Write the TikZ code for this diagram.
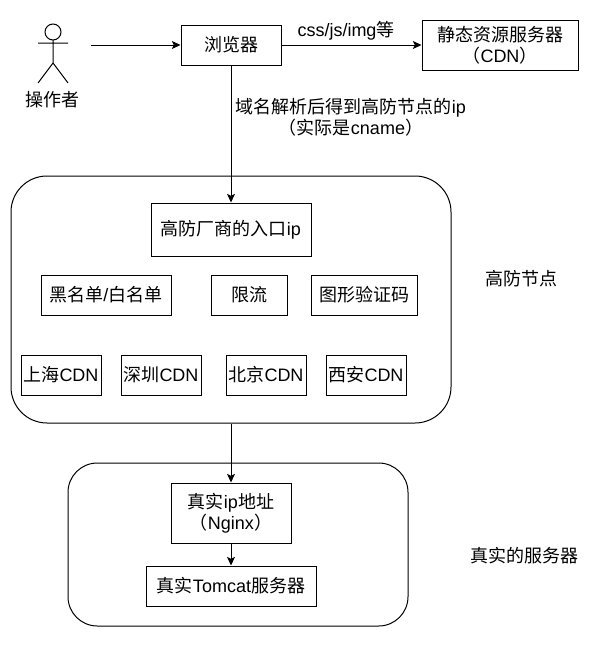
\documentclass[tikz,border=0pt]{standalone}
\usepackage{fontspec}
\setmainfont{Liberation Sans}
\newfontfamily\cjk{Noto Sans CJK SC}
\newcommand{\zh}[1]{{\cjk #1}}
\usetikzlibrary{arrows.meta}
\tikzset{
  box/.style={draw,line width=0.75pt,align=center,inner sep=0pt,font=\fontsize{13.5}{15.75}\selectfont},
  group/.style={draw,line width=0.75pt,rounded corners=27pt},
  lbl/.style={align=center,inner sep=0pt,font=\fontsize{13.5}{15.75}\selectfont},
  link/.style={line width=0.75pt,-{Stealth[length=6.5pt,width=6pt,inset=1.5pt]}},
}
\begin{document}
\begin{tikzpicture}[x=0.75pt,y=-0.75pt]
  \useasboundingbox (0,0) rectangle (595,646);
  % containers
  \node[group,minimum width=330pt,minimum height=185.25pt] (defend) at (231,299.5) {};
  \node[group,rounded corners=22pt,minimum width=255pt,minimum height=122.25pt] (real) at (238,544.5) {};
  % operator
  \draw[line width=0.75pt] (53,32) circle (8);
  \draw[line width=0.75pt] (53,40)--(53,63) (38,43)--(68,43) (38,83)--(53,63)--(68,83);
  \node[lbl] (operator) at (53,100) {\zh{操作者}};
  \coordinate (start) at (91,45);
  % top row
  \node[box,minimum width=75pt,minimum height=30pt] (browser) at (231,45) {\zh{浏览器}};
  \node[box,minimum width=117pt,minimum height=37.5pt] (static) at (500,45) {\zh{静态资源服务器}\\\zh{（}CDN\zh{）}};
  % defence node
  \node[box,minimum width=120pt,minimum height=39.75pt] (entry) at (231,229.5) {\zh{高防厂商的入口}ip};
  \node[box,minimum width=97.5pt,minimum height=30pt] (blacklist) at (106,295) {\zh{黑名单}/\zh{白名单}};
  \node[box,minimum width=57pt,minimum height=30pt] (limit) at (249,295) {\zh{限流}};
  \node[box,minimum width=79.5pt,minimum height=30pt] (captcha) at (364,295) {\zh{图形验证码}};
  \node[box,minimum width=60pt,minimum height=30pt] (shanghai) at (61,375) {\zh{上海}CDN};
  \node[box,minimum width=60pt,minimum height=30pt] (shenzhen) at (161,375) {\zh{深圳}CDN};
  \node[box,minimum width=60pt,minimum height=30pt] (beijing) at (266,375) {\zh{北京}CDN};
  \node[box,minimum width=60pt,minimum height=30pt] (xian) at (366,375) {\zh{西安}CDN};
  % real servers
  \node[box,minimum width=90pt,minimum height=45pt] (nginx) at (231,513) {\zh{真实}ip\zh{地址}\\\zh{（}Nginx\zh{）}};
  \node[box,minimum width=127.5pt,minimum height=30pt] (tomcat) at (231,586) {\zh{真实}Tomcat\zh{服务器}};
  % side labels
  \node[lbl] (defendlabel) at (521,279) {\zh{高防节点}};
  \node[lbl] (reallabel) at (524,556) {\zh{真实的服务器}};
  \node[lbl] (staticlabel) at (346,30.5) {css/js/img\zh{等}};
  \node[lbl] (dnslabel) at (351,117) {\zh{域名解析后得到高防节点的}ip\\\zh{（实际是}cname\zh{）}};
  % links
  \draw[link] (start)--(browser);
  \draw[link] (browser)--(static);
  \draw[link] (browser)--(entry);
  \draw[link] (defend.south-|nginx)--(nginx);
  \draw[link] (nginx)--(tomcat);
\end{tikzpicture}
\end{document}
